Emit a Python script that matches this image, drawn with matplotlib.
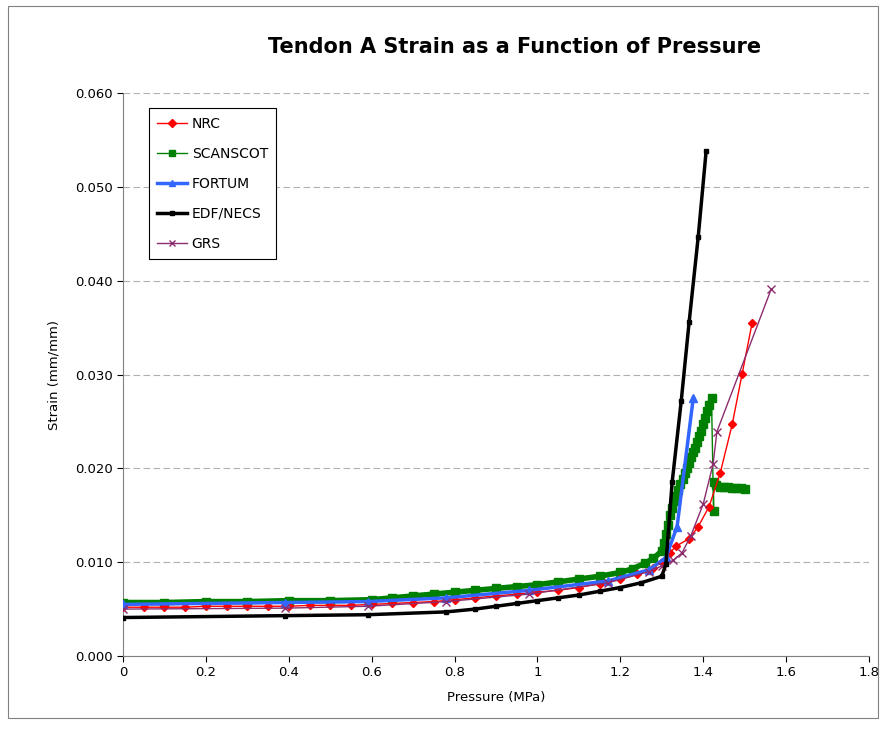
import matplotlib.pyplot as plt
from matplotlib.patches import Rectangle

# NRC
nrc_p = [0, 0.05, 0.1, 0.15, 0.2, 0.25, 0.3, 0.35, 0.4, 0.45, 0.5, 0.55, 0.6, 0.65, 0.7, 0.75,
         0.8, 0.85, 0.9, 0.95, 1.0, 1.05, 1.1, 1.15, 1.2, 1.24, 1.28, 1.3, 1.32, 1.334,
         1.366, 1.388, 1.414, 1.441, 1.47, 1.494, 1.518]
nrc_s = [0.0052, 0.0052, 0.0052, 0.0052, 0.0053, 0.0053, 0.0053, 0.0053, 0.0053, 0.0054, 0.0054,
         0.0054, 0.0055, 0.0056, 0.0057, 0.0058, 0.0060, 0.0062, 0.0064, 0.0066, 0.0068, 0.0070,
         0.0073, 0.0077, 0.0082, 0.0087, 0.0094, 0.0100, 0.0110, 0.0117,
         0.0125, 0.0138, 0.0159, 0.0195, 0.0247, 0.0301, 0.0355]

# SCANSCOT
scan_p = [0, 0.1, 0.2, 0.3, 0.4, 0.5, 0.6, 0.65, 0.7, 0.75, 0.8, 0.85, 0.9, 0.95, 1.0, 1.05,
          1.1, 1.15, 1.2, 1.23, 1.26, 1.28, 1.3, 1.305, 1.31, 1.315, 1.32, 1.325, 1.33, 1.335,
          1.34, 1.345, 1.35, 1.355, 1.36, 1.365, 1.37, 1.375, 1.38, 1.385, 1.39, 1.395, 1.4,
          1.405, 1.41, 1.415, 1.42, 1.425, 1.425, 1.43, 1.44, 1.45, 1.46, 1.47, 1.48, 1.49, 1.5]
scan_s = [0.0057, 0.0057, 0.0058, 0.0058, 0.0059, 0.0059, 0.0060, 0.0062, 0.0064, 0.0066, 0.0068,
          0.0070, 0.0072, 0.0074, 0.0076, 0.0079, 0.0082, 0.0085, 0.0089, 0.0093, 0.0099, 0.0104,
          0.0112, 0.0120, 0.0130, 0.0140, 0.0150, 0.0158, 0.0165, 0.0171, 0.0177, 0.0183, 0.0189,
          0.0195, 0.0200, 0.0206, 0.0212, 0.0217, 0.0222, 0.0228, 0.0234, 0.0240, 0.0247, 0.0254,
          0.0261, 0.0268, 0.0275, 0.0155, 0.0185, 0.0182, 0.0180, 0.0180, 0.0180, 0.0179, 0.0179,
          0.0179, 0.0178]
scan_peak = 47  # points up to the peak form the thick band

# FORTUM
fort_p = [0, 0.39, 0.59, 0.78, 0.98, 1.17, 1.27, 1.31, 1.337, 1.376]
fort_s = [0.0055, 0.0057, 0.0058, 0.0062, 0.0070, 0.0080, 0.0092, 0.0105, 0.0138, 0.0275]

# EDF/NECS
edf_p = [0, 0.39, 0.59, 0.78, 0.85, 0.9, 0.95, 1.0, 1.05, 1.1, 1.15, 1.2, 1.25, 1.3,
         1.31, 1.325, 1.347, 1.366, 1.388, 1.407]
edf_s = [0.0041, 0.0043, 0.0044, 0.0047, 0.0050, 0.0053, 0.0056, 0.0059, 0.0062, 0.0065,
         0.0069, 0.0073, 0.0078, 0.0085, 0.0098, 0.0185, 0.0272, 0.0356, 0.0447, 0.0538]

# GRS
grs_p = [0, 0.39, 0.59, 0.78, 0.98, 1.17, 1.27, 1.3, 1.328, 1.349, 1.37, 1.40, 1.424, 1.433, 1.564]
grs_s = [0.0050, 0.0051, 0.0053, 0.0058, 0.0066, 0.0078, 0.0090, 0.0096, 0.0102, 0.0110,
         0.0128, 0.0162, 0.0205, 0.0239, 0.0391]

fig = plt.figure(figsize=(8.81, 7.31), dpi=100)
ax = fig.add_axes([123 / 881, 1 - 656 / 731, 746 / 881, 563 / 731])

ax.plot(nrc_p, nrc_s, color='#ff0000', lw=1, marker='D', ms=4.5, label='NRC', zorder=4)
ax.plot(scan_p[:scan_peak], scan_s[:scan_peak], color='#008000', lw=4, zorder=3)
ax.plot(scan_p, scan_s, color='#008000', lw=1, marker='s', ms=6, label='SCANSCOT', zorder=3)
ax.plot(fort_p, fort_s, color='#3366ff', lw=2.5, marker='^', ms=6, label='FORTUM', zorder=4)
ax.plot(edf_p, edf_s, color='black', lw=2.5, marker='s', ms=3, label='EDF/NECS', zorder=5)
ax.plot(grs_p, grs_s, color='#8b2d6e', lw=1, marker='x', ms=6, mew=1, label='GRS', zorder=4)

ax.set_xlim(0, 1.8)
ax.set_ylim(0, 0.06)
ax.set_xticks([0, 0.2, 0.4, 0.6, 0.8, 1, 1.2, 1.4, 1.6, 1.8])
ax.set_xticklabels(['0', '0.2', '0.4', '0.6', '0.8', '1', '1.2', '1.4', '1.6', '1.8'])
ax.set_yticks([0, 0.01, 0.02, 0.03, 0.04, 0.05, 0.06])
ax.set_yticklabels(['0.000', '0.010', '0.020', '0.030', '0.040', '0.050', '0.060'])
ax.tick_params(labelsize=9.5, direction='out', length=4)
ax.yaxis.grid(True, color='#b0b0b0', ls=(0, (6, 3)), lw=0.8)
ax.set_axisbelow(True)
ax.spines['top'].set_visible(False)
ax.spines['right'].set_visible(False)
ax.spines['left'].set_color('#808080')
ax.spines['bottom'].set_color('#808080')

ax.set_xlabel('Pressure (MPa)', fontsize=9.5, labelpad=8)
ax.set_ylabel('Strain (mm/mm)', fontsize=9.5, labelpad=10)
fig.text(515 / 881, 1 - 47 / 731, 'Tendon A Strain as a Function of Pressure',
         ha='center', va='center', fontsize=15, fontweight='bold')

leg = ax.legend(loc='upper left', bbox_to_anchor=(0.025, 0.985), fontsize=10,
                fancybox=False, edgecolor='black', framealpha=1, labelspacing=1.15,
                handlelength=2.2, handletextpad=0.3, borderpad=0.6, markerscale=0.8)
leg.get_frame().set_linewidth(0.8)

fig.patches.append(Rectangle((8 / 881, 1 - 718 / 731), 870 / 881, 712 / 731,
                             transform=fig.transFigure, fill=False, edgecolor='#808080', lw=0.8))

fig.savefig('out.png', dpi=100)
